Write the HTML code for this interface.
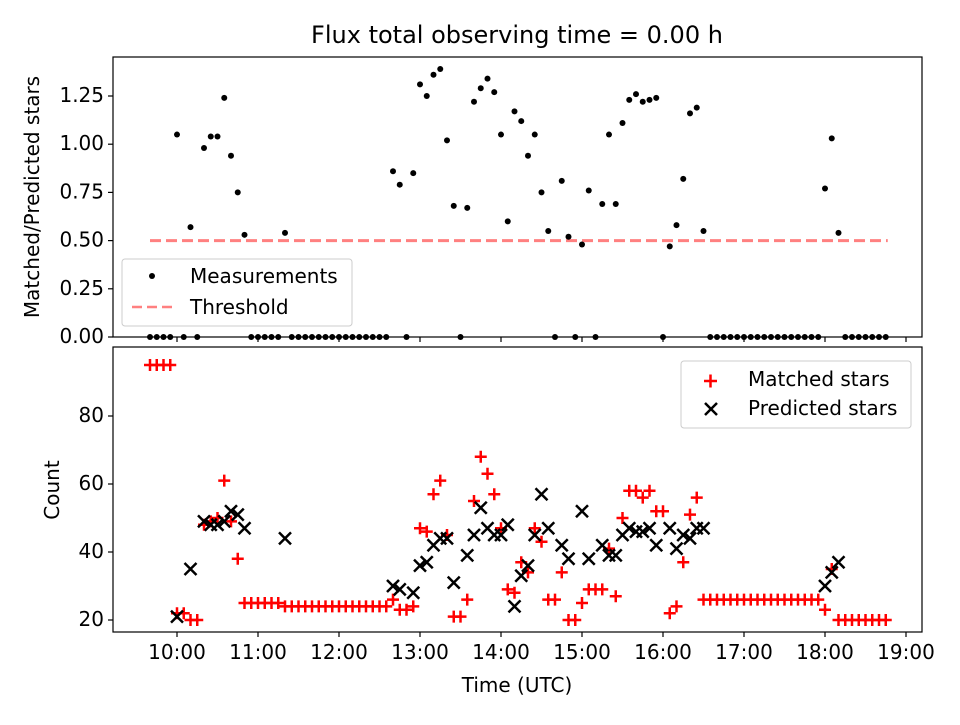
<!DOCTYPE html>
<html><head><meta charset="utf-8"><style>
body{margin:0;background:#fff;}
svg text{font-family:"DejaVu Sans","Liberation Sans",sans-serif;fill:#000;}
</style></head><body>
<svg id="chart" width="960" height="720" viewBox="0 0 960 720" xmlns="http://www.w3.org/2000/svg">
<rect width="960" height="720" fill="#fff"/>
<text x="517" y="43" font-size="24" text-anchor="middle">Flux total observing time = 0.00 h</text>
<g id="topG"></g><g id="botG"></g>
<rect x="113" y="57" width="809" height="280" fill="none" stroke="#000" stroke-width="1.2"/>
<rect x="113" y="347" width="809" height="285" fill="none" stroke="#000" stroke-width="1.2"/>
<text transform="translate(39,197) rotate(-90)" font-size="20" text-anchor="middle">Matched/Predicted stars</text>
<text transform="translate(59,490) rotate(-90)" font-size="20" text-anchor="middle">Count</text>
<text x="517" y="692" font-size="20" text-anchor="middle">Time (UTC)</text>
<g>
<rect x="122" y="259" width="230" height="67" rx="3" fill="#fff" fill-opacity="0.8" stroke="#ccc"/>
<circle cx="152" cy="276" r="3" fill="#000"/>
<text x="190" y="283" font-size="20">Measurements</text>
<line x1="132" y1="307" x2="172" y2="307" stroke="#ff8080" stroke-width="2.5" stroke-dasharray="10,5"/>
<text x="190" y="314" font-size="20">Threshold</text>
</g>
<g>
<rect x="681" y="361" width="230" height="67" rx="3" fill="#fff" fill-opacity="0.8" stroke="#ccc"/>
<path d="M704,381 h13 M710.5,374.5 v13" stroke="red" stroke-width="2.5"/>
<path d="M705,403 l12,12 M717,403 l-12,12" stroke="#000" stroke-width="2.5"/>
<text x="748" y="386" font-size="20">Matched stars</text>
<text x="748" y="415" font-size="20">Predicted stars</text>
</g>
</svg>
<script>
// minutes since 10:00 for each measurement (5-minute grid k*5)
const minutes = [];
for (let k = -4; k <= 105; k++) minutes.push(k * 5);
const ratio = [0,0,0,0,1.05,0,0.57,0,0.98,1.04,1.04,1.24,0.94,0.75,0.53,0,0,0,0,0,0.54,
0,0,0,0,0,0,0,0,0,0,0,0,0,0,0,0.86,0.79,0,0.85,1.31,1.25,1.36,1.39,1.02,0.68,0,0.67,1.22,1.29,1.34,1.27,1.05,0.60,1.17,1.12,0.94,1.05,0.75,0.55,0,0.81,0.52,0,0.48,0.76,0,0.69,1.05,0.69,1.11,1.23,1.26,1.22,1.23,1.24,0,0.47,0.58,0.82,1.16,1.19,0.55,
0,0,0,0,0,0,0,0,0,0,0,0,0,0,0,0,0,0.77,1.03,0.54,0,0,0,0,0,0,0];
const matched = [95,95,95,95,22,22,20,20,48,49,50,61,49,38,25,25,25,25,25,25,24,
24,24,24,24,24,24,24,24,24,24,24,24,24,24,24,26,23,23,24,47,46,57,61,45,21,21,26,55,68,63,57,47,29,28,37,34,47,43,26,26,34,20,20,25,29,29,29,41,27,50,58,58,56,58,52,52,22,24,37,51,56,26,
26,26,26,26,26,26,26,26,26,26,26,26,26,26,26,26,26,23,35,20,20,20,20,20,20,20,20];
const predicted = [null,null,null,null,21,null,35,null,49,48,48,49,52,51,47,null,null,null,null,null,44,
null,null,null,null,null,null,null,null,null,null,null,null,null,null,null,30,29,null,28,36,37,42,44,44,31,null,39,45,53,47,45,45,48,24,33,36,45,57,47,null,42,38,null,52,38,null,42,39,39,45,47,46,46,47,42,null,47,41,45,44,47,47,
null,null,null,null,null,null,null,null,null,null,null,null,null,null,null,null,null,30,34,37,null,null,null,null,null,null,null];
const threshold = 0.5;
const topTicks = [0, 0.25, 0.5, 0.75, 1.0, 1.25];
const topTickLabels = ["0.00","0.25","0.50","0.75","1.00","1.25"];
const botTicks = [20, 40, 60, 80];
const xTickLabels = ["10:00","11:00","12:00","13:00","14:00","15:00","16:00","17:00","18:00","19:00"];

const NS = "http://www.w3.org/2000/svg";
const xS = m => 177 + m * 81 / 60;
const yTop = v => 337 - v * 192.8;
const yBot = v => 620 - (v - 20) * 3.4;
function mk(tag, attrs, parent) {
  const e = document.createElementNS(NS, tag);
  for (const k in attrs) e.setAttribute(k, attrs[k]);
  parent.appendChild(e); return e;
}
const topG = document.getElementById('topG'), botG = document.getElementById('botG');

xTickLabels.forEach((lab, i) => {
  const x = xS(i * 60);
  let t = mk('line', {x1:x, x2:x, y1:337, y2:342, stroke:'#000', 'stroke-width':1.2}, topG);
  
  
  t = mk('line', {x1:x, x2:x, y1:632, y2:637, stroke:'#000', 'stroke-width':1.2}, botG);
  
  
  const tx = mk('text', {x:x, y:659, 'font-size':20, 'text-anchor':'middle'}, botG);
  tx.textContent = lab;
  
  
});
topTicks.forEach((v, i) => {
  const y = yTop(v);
  const l = mk('line', {x1:108, x2:113, y1:y, y2:y, stroke:'#000', 'stroke-width':1.2}, topG);
  
  
  const t = mk('text', {x:104, y:y + 6, 'font-size':20, 'text-anchor':'end'}, topG);
  t.textContent = topTickLabels[i];
  
  
});
botTicks.forEach(v => {
  const y = yBot(v);
  const l = mk('line', {x1:108, x2:113, y1:y, y2:y, stroke:'#000', 'stroke-width':1.2}, botG);
  
  
  const t = mk('text', {x:104, y:y + 6, 'font-size':20, 'text-anchor':'end'}, botG);
  t.textContent = String(v);
  
  
});
const th = mk('line', {x1:xS(minutes[0]), x2:xS(minutes[minutes.length-1]) + 2, y1:yTop(threshold), y2:yTop(threshold), stroke:'#ff8080', 'stroke-width':3, 'stroke-dasharray':'11,5'}, topG);


minutes.forEach((m, i) => {
  const c = mk('circle', {cx:xS(m), cy:yTop(ratio[i]), r:3, fill:'#000'}, topG);
  
  
});
minutes.forEach((m, i) => {
  const x = xS(m), y = yBot(matched[i]);
  const p = mk('path', {d:`M${x-6},${y} h12 M${x},${y-6} v12`, stroke:'red', 'stroke-width':2.5}, botG);
  
  
});
minutes.forEach((m, i) => {
  if (predicted[i] == null) return;
  const x = xS(m), y = yBot(predicted[i]);
  const p = mk('path', {d:`M${x-6},${y-6} l12,12 M${x+6},${y-6} l-12,12`, stroke:'#000', 'stroke-width':2.5}, botG);
  
  
});
</script>
</body></html>
